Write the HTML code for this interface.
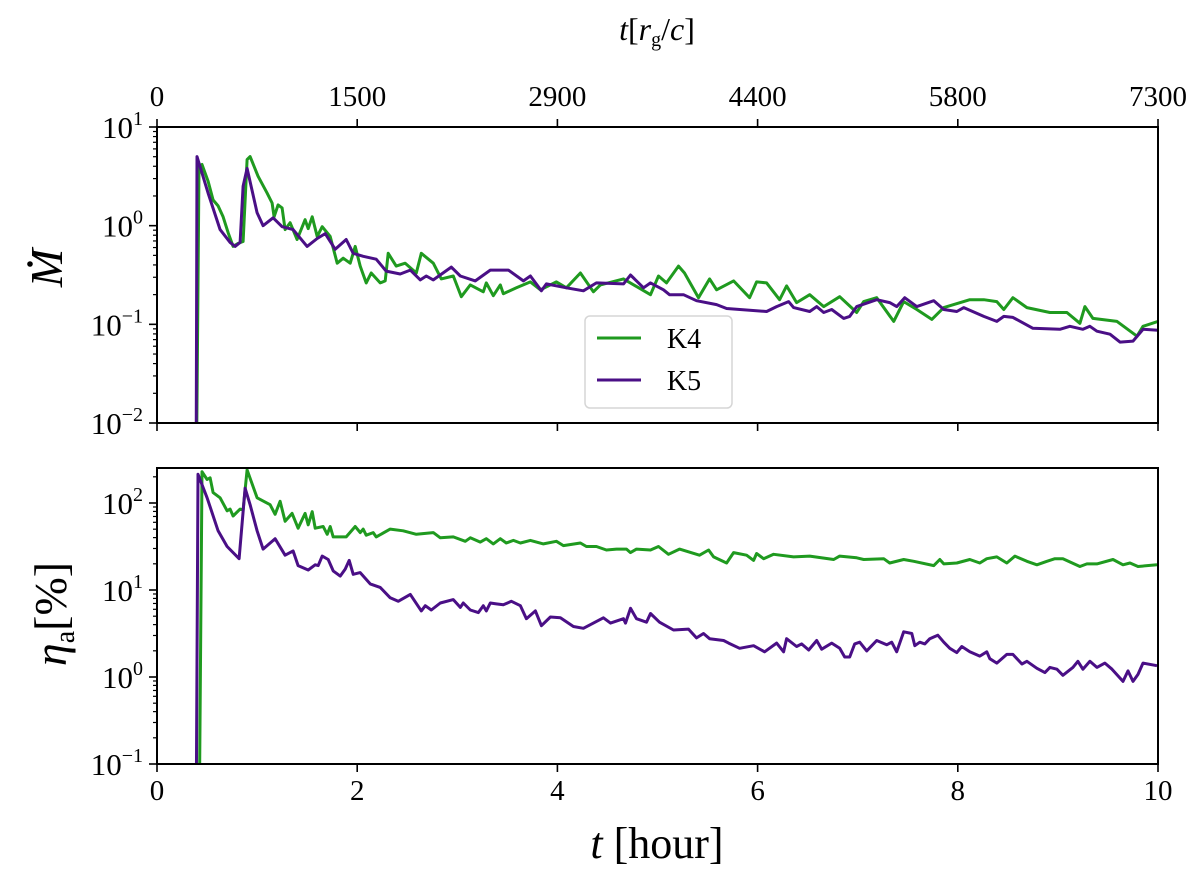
<!DOCTYPE html>
<html><head><meta charset="utf-8"><style>
html,body{margin:0;padding:0;background:#fff;}
svg{display:block;font-family:"Liberation Serif",serif;}
</style></head><body>
<svg id="chart" width="1200" height="870" viewBox="0 0 1200 870" xmlns="http://www.w3.org/2000/svg">
<defs>
<clipPath id="clipTop"><rect x="157" y="127" width="1001" height="296"/></clipPath>
<clipPath id="clipBot"><rect x="157" y="468" width="1001" height="296"/></clipPath>
</defs>
<g id="layer"></g>
</svg>
<script>
// ---- data (time in hours, values as log10) ----
const k4MdotT = [0.39,0.42,0.45,0.51,0.56,0.61,0.66,0.71,0.76,0.81,0.86,0.90,0.93,1.01,1.10,1.15,1.17,1.21,1.25,1.28,1.33,1.40,1.48,1.51,1.55,1.60,1.65,1.73,1.80,1.86,1.93,1.98,2.03,2.09,2.14,2.23,2.28,2.31,2.39,2.48,2.59,2.64,2.76,2.84,2.96,3.04,3.13,3.26,3.29,3.36,3.43,3.46,3.59,3.73,3.83,3.99,4.09,4.23,4.36,4.43,4.66,4.93,5.01,5.09,5.21,5.27,5.41,5.52,5.59,5.76,5.92,5.99,6.09,6.22,6.29,6.39,6.52,6.66,6.82,6.99,7.06,7.19,7.36,7.46,7.59,7.74,7.86,8.12,8.26,8.39,8.46,8.55,8.69,8.92,9.09,9.22,9.27,9.35,9.59,9.79,9.85,10.0];
const k4MdotLog = [-3,0.60,0.62,0.45,0.26,0.20,0.09,-0.07,-0.21,-0.18,-0.16,0.67,0.70,0.50,0.33,0.23,0.09,0.21,0.18,-0.04,0.03,-0.14,0.06,-0.03,0.09,-0.11,-0.01,-0.11,-0.38,-0.33,-0.38,-0.21,-0.41,-0.58,-0.48,-0.58,-0.56,-0.28,-0.41,-0.38,-0.48,-0.28,-0.38,-0.54,-0.51,-0.72,-0.60,-0.67,-0.58,-0.71,-0.60,-0.69,-0.63,-0.57,-0.65,-0.57,-0.63,-0.48,-0.67,-0.60,-0.54,-0.70,-0.51,-0.58,-0.41,-0.48,-0.73,-0.54,-0.65,-0.56,-0.73,-0.57,-0.58,-0.75,-0.61,-0.78,-0.70,-0.82,-0.72,-0.88,-0.77,-0.73,-0.97,-0.77,-0.85,-0.95,-0.83,-0.75,-0.75,-0.77,-0.85,-0.73,-0.83,-0.88,-0.88,-0.99,-0.82,-0.94,-0.97,-1.12,-1.02,-0.97];
const k5MdotT = [0.39,0.40,0.51,0.63,0.73,0.78,0.83,0.86,0.90,1.00,1.06,1.16,1.25,1.36,1.50,1.60,1.68,1.78,1.89,1.96,2.06,2.19,2.29,2.43,2.53,2.63,2.69,2.76,2.94,3.03,3.18,3.33,3.51,3.66,3.73,3.84,3.89,4.09,4.26,4.39,4.66,4.73,4.86,4.93,5.06,5.12,5.26,5.39,5.59,5.69,6.09,6.19,6.31,6.36,6.52,6.59,6.66,6.74,6.86,6.92,6.99,7.19,7.32,7.39,7.47,7.59,7.76,7.86,7.99,8.06,8.26,8.39,8.46,8.55,8.75,9.02,9.12,9.25,9.32,9.39,9.52,9.62,9.75,9.85,10.0];
const k5MdotLog = [-3,0.70,0.33,-0.04,-0.17,-0.21,-0.17,0.40,0.58,0.13,0.00,0.08,-0.01,-0.04,-0.21,-0.13,-0.08,-0.24,-0.14,-0.28,-0.31,-0.34,-0.46,-0.49,-0.45,-0.55,-0.51,-0.55,-0.42,-0.51,-0.56,-0.45,-0.45,-0.56,-0.51,-0.66,-0.59,-0.63,-0.66,-0.58,-0.59,-0.50,-0.63,-0.58,-0.65,-0.70,-0.70,-0.76,-0.80,-0.84,-0.87,-0.82,-0.77,-0.83,-0.87,-0.82,-0.88,-0.85,-0.94,-0.92,-0.82,-0.75,-0.78,-0.82,-0.73,-0.82,-0.76,-0.85,-0.87,-0.83,-0.92,-0.97,-0.92,-0.93,-1.04,-1.05,-1.02,-1.05,-1.02,-1.07,-1.10,-1.18,-1.17,-1.05,-1.06];
const k4EtaT = [0.42,0.45,0.50,0.53,0.56,0.63,0.70,0.73,0.76,0.83,0.86,0.90,1.00,1.13,1.18,1.23,1.28,1.35,1.41,1.48,1.51,1.55,1.58,1.66,1.70,1.73,1.76,1.89,1.98,2.03,2.06,2.09,2.16,2.19,2.33,2.46,2.59,2.76,2.83,2.96,3.08,3.13,3.23,3.29,3.36,3.43,3.49,3.56,3.63,3.73,3.86,3.99,4.06,4.23,4.29,4.39,4.49,4.59,4.69,4.73,4.79,4.93,5.01,5.11,5.22,5.42,5.51,5.56,5.69,5.76,5.89,5.96,5.99,6.06,6.16,6.36,6.52,6.76,6.82,6.99,7.06,7.26,7.32,7.46,7.56,7.76,7.82,7.86,7.99,8.12,8.22,8.29,8.39,8.49,8.57,8.69,8.79,8.89,8.97,9.05,9.22,9.29,9.39,9.55,9.65,9.72,9.80,9.99];
const k4EtaLog = [-2,2.36,2.27,2.29,2.12,2.06,1.91,1.93,1.85,1.93,1.92,2.38,2.06,1.98,1.87,2.02,1.79,1.88,1.71,1.88,1.75,1.90,1.71,1.73,1.64,1.73,1.61,1.61,1.73,1.66,1.70,1.63,1.66,1.61,1.70,1.68,1.64,1.66,1.60,1.61,1.56,1.60,1.55,1.59,1.53,1.59,1.54,1.57,1.54,1.57,1.53,1.56,1.51,1.54,1.50,1.50,1.46,1.47,1.47,1.43,1.47,1.46,1.50,1.41,1.47,1.40,1.46,1.38,1.31,1.43,1.40,1.34,1.42,1.36,1.41,1.38,1.39,1.35,1.39,1.37,1.35,1.36,1.31,1.35,1.33,1.28,1.35,1.30,1.31,1.35,1.31,1.36,1.38,1.31,1.39,1.33,1.29,1.33,1.36,1.36,1.27,1.30,1.30,1.35,1.29,1.31,1.27,1.29];
const k5EtaT = [0.39,0.41,0.50,0.61,0.70,0.82,0.88,0.93,1.00,1.06,1.18,1.28,1.36,1.41,1.51,1.58,1.61,1.65,1.71,1.76,1.83,1.88,1.92,1.96,2.03,2.13,2.23,2.33,2.41,2.53,2.64,2.68,2.74,2.83,2.96,3.03,3.06,3.13,3.21,3.26,3.29,3.33,3.39,3.46,3.54,3.63,3.69,3.78,3.84,3.93,4.03,4.16,4.26,4.36,4.46,4.53,4.66,4.68,4.73,4.79,4.89,4.93,5.02,5.16,5.31,5.39,5.46,5.52,5.66,5.71,5.82,5.96,6.07,6.19,6.26,6.29,6.39,6.44,6.51,6.59,6.64,6.74,6.82,6.87,6.92,6.97,7.02,7.09,7.19,7.29,7.34,7.39,7.46,7.54,7.57,7.62,7.67,7.72,7.80,7.86,7.92,7.99,8.04,8.12,8.22,8.29,8.32,8.39,8.49,8.55,8.64,8.69,8.79,8.87,8.92,8.99,9.05,9.15,9.20,9.25,9.32,9.39,9.47,9.54,9.65,9.70,9.75,9.80,9.85,9.99];
const k5EtaLog = [-2,2.33,2.06,1.68,1.50,1.36,2.17,1.98,1.68,1.47,1.59,1.40,1.45,1.28,1.23,1.29,1.28,1.39,1.35,1.22,1.16,1.24,1.34,1.18,1.20,1.07,1.03,0.91,0.87,0.95,0.76,0.82,0.77,0.85,0.89,0.80,0.85,0.77,0.74,0.82,0.76,0.85,0.84,0.83,0.87,0.82,0.67,0.76,0.59,0.69,0.68,0.58,0.56,0.62,0.68,0.62,0.67,0.62,0.79,0.67,0.63,0.73,0.63,0.54,0.55,0.45,0.50,0.44,0.42,0.39,0.33,0.36,0.29,0.39,0.29,0.44,0.35,0.38,0.31,0.42,0.32,0.39,0.33,0.23,0.23,0.38,0.40,0.30,0.42,0.37,0.40,0.29,0.52,0.50,0.36,0.40,0.38,0.44,0.48,0.40,0.33,0.28,0.35,0.29,0.24,0.29,0.21,0.16,0.26,0.26,0.15,0.18,0.10,0.05,0.11,0.09,0.02,0.11,0.18,0.09,0.18,0.11,0.16,0.09,-0.05,0.07,-0.05,0.03,0.16,0.13];
const xTicks = [0,2,4,6,8,10];
const xTickLabels = ["0","2","4","6","8","10"];
const topTickLabels = ["0","1500","2900","4400","5800","7300"];
const mdotDecades = [1,0,-1,-2];
const etaDecades = [2,1,0,-1];

// ---- geometry ----
const X0=157, X1=1158;
const TOP={y0:127,y1:423,lmax:1,lmin:-2};
const BOT={y0:468,y1:764,lmax:2.4,lmin:-1};
const sx = t => X0 + (t/10)*(X1-X0);
const syT = l => TOP.y0 + (TOP.lmax-l)/(TOP.lmax-TOP.lmin)*(TOP.y1-TOP.y0);
const syB = l => BOT.y1 - (l-BOT.lmin)*87;
const NS="http://www.w3.org/2000/svg";
const layer=document.getElementById('layer');
function mk(tag, attrs, parent){const e=document.createElementNS(NS,tag);for(const k in attrs)e.setAttribute(k,attrs[k]);(parent||layer).appendChild(e);return e;}

function series(ts, ls, sy, color, clip, name){
  let d='';
  for(let i=0;i<ts.length;i++){d+=(i?'L':'M')+sx(ts[i]).toFixed(1)+','+sy(ls[i]).toFixed(1);}
  const p=mk('path',{d:d,fill:'none',stroke:color,'stroke-width':3,'stroke-linejoin':'round','clip-path':'url(#'+clip+')'});
  
  
}
const GREEN='#1f9a1f', PURPLE='#4a0f86';
series(k4MdotT,k4MdotLog,syT,GREEN,'clipTop','k4-mdot-line');
series(k5MdotT,k5MdotLog,syT,PURPLE,'clipTop','k5-mdot-line');
series(k4EtaT,k4EtaLog,syB,GREEN,'clipBot','k4-eta-line');
series(k5EtaT,k5EtaLog,syB,PURPLE,'clipBot','k5-eta-line');

function label(x,y,html,size,anchor,name,extra){
  const t=mk('text',Object.assign({x:x,y:y,'font-size':size,'text-anchor':anchor||'middle',fill:'#000'},extra||{}));
  t.innerHTML=html;
  
  
  return t;
}

// frames
[TOP,BOT].forEach((P,i)=>{
  const r=mk('rect',{x:X0,y:P.y0,width:X1-X0,height:P.y1-P.y0,fill:'none',stroke:'#000','stroke-width':2});
  
  
});

// x ticks
xTicks.forEach((v,i)=>{
  const x=sx(v);
  mk('line',{x1:x,x2:x,y1:TOP.y0,y2:TOP.y0-8,stroke:'#000','stroke-width':1.6});
  mk('line',{x1:x,x2:x,y1:TOP.y1,y2:TOP.y1+8,stroke:'#000','stroke-width':1.6});
  mk('line',{x1:x,x2:x,y1:BOT.y1,y2:BOT.y1+8,stroke:'#000','stroke-width':1.6});
  label(x,800,xTickLabels[i],29,'middle','x-tick-label');
  label(x,106,topTickLabels[i],29,'middle','top-x-tick-label');
});

// log y ticks
function yAxis(P, sy, decades, name){
  decades.forEach(d=>{
    const y=sy(d);
    mk('line',{x1:X0,x2:X0-8,y1:y,y2:y,stroke:'#000','stroke-width':1.6});
    label(143,y+11,'10<tspan dy="-13" font-size="20">'+(d<0?'\u2212'+(-d):d)+'</tspan>',31,'end',name);
  });
  for(let d=Math.floor(P.lmin);d<Math.ceil(P.lmax);d++){
    for(let m=2;m<=9;m++){
      const l=d+Math.log10(m);
      if(l<P.lmin||l>P.lmax)continue;
      const y=sy(l);
      mk('line',{x1:X0,x2:X0-4,y1:y,y2:y,stroke:'#000','stroke-width':1.2});
    }
  }
}
yAxis(TOP,syT,mdotDecades,'mdot-y-tick-label');
yAxis(BOT,syB,etaDecades,'eta-y-tick-label');

// axis titles
label(0,0,'<tspan font-style="italic">M</tspan>',46,'middle','mdot-y-axis-title',{transform:'translate(62,268) rotate(-90)'});
mk('circle',{cx:30,cy:264,r:2.8,fill:'#000'});
label(0,0,'<tspan font-style="italic">η</tspan><tspan font-size="28" dy="8">a</tspan><tspan dy="-8">[%]</tspan>',46,'middle','eta-y-axis-title',{transform:'translate(66,614) rotate(-90)'});
label(657,858,'<tspan font-style="italic">t</tspan> [hour]',44,'middle','x-axis-title');
label(657,40,'<tspan font-style="italic">t</tspan>[<tspan font-style="italic">r</tspan><tspan font-size="20" dy="6">g</tspan><tspan dy="-6">/</tspan><tspan font-style="italic">c</tspan>]',32,'middle','top-x-axis-title');

// legend
const lg=mk('g',{});


mk('rect',{x:585,y:316,width:147,height:92,rx:5,fill:'#fff','fill-opacity':0.85,stroke:'#d6d6d6','stroke-width':1.5},lg);
mk('line',{x1:597,x2:641,y1:338,y2:338,stroke:GREEN,'stroke-width':3},lg);
mk('line',{x1:597,x2:641,y1:380,y2:380,stroke:PURPLE,'stroke-width':3},lg);
const t1=label(684,348,'K4',28,'middle','legend-entry-k4'); lg.appendChild(t1);
const t2=label(684,390,'K5',28,'middle','legend-entry-k5'); lg.appendChild(t2);
</script>
</body></html>
